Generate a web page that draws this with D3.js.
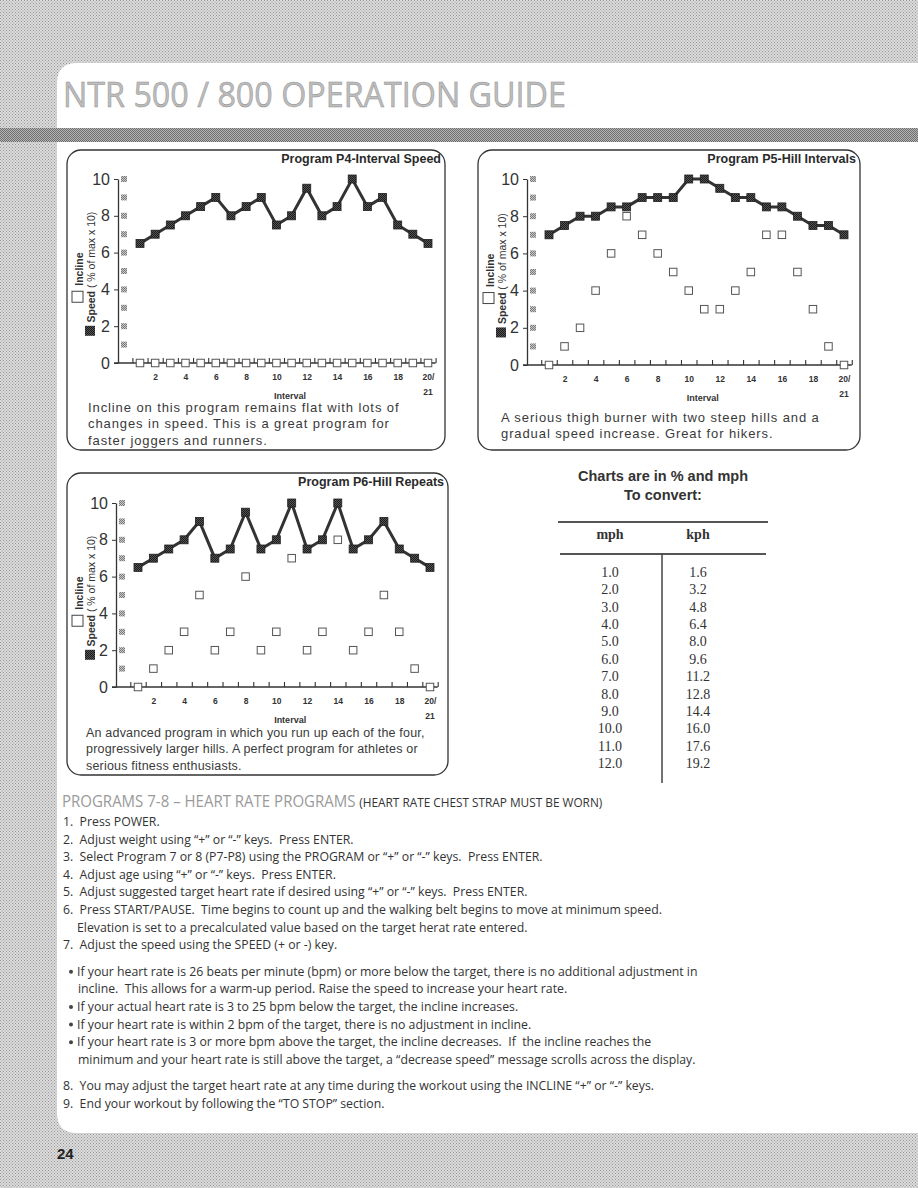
<!DOCTYPE html>
<html>
<head>
<meta charset="utf-8">
<script src="https://cdn.jsdelivr.net/npm/d3@7"></script>
<style>
body { margin: 0; background: #fff; }
svg { display: block; }
text { white-space: pre; }
</style>
</head>
<body>
<script>
// chart data
var intervals = [1,2,3,4,5,6,7,8,9,10,11,12,13,14,15,16,17,18,19,20];
var xTickValues = [2,4,6,8,10,12,14,16,18,20];
var xTickLabels = ['2','4','6','8','10','12','14','16','18','20/'];
var yTickValues = [0,2,4,6,8,10];
var yUnitMarks = [1,2,3,4,5,6,7,8,9,10];

var p4Speed   = [6.5,7,7.5,8,8.5,9,8,8.5,9,7.5,8,9.5,8,8.5,10,8.5,9,7.5,7,6.5];
var p4Incline = [0,0,0,0,0,0,0,0,0,0,0,0,0,0,0,0,0,0,0,0];
var p5Speed   = [7,7.5,8,8,8.5,8.5,9,9,9,10,10,9.5,9,9,8.5,8.5,8,7.5,7.5,7];
var p5Incline = [0,1,2,4,6,8,7,6,5,4,3,3,4,5,7,7,5,3,1,0];
var p6Speed   = [6.5,7,7.5,8,9,7,7.5,9.5,7.5,8,10,7.5,8,10,7.5,8,9,7.5,7,6.5];
var p6Incline = [0,1,2,3,5,2,3,6,2,3,7,2,3,8,2,3,5,3,1,0];

var mphValues = ['1.0','2.0','3.0','4.0','5.0','6.0','7.0','8.0','9.0','10.0','11.0','12.0'];
var kphValues = ['1.6','3.2','4.8','6.4','8.0','9.6','11.2','12.8','14.4','16.0','17.6','19.2'];

var guideRows = [
  ['item', '1.  Press POWER.'],
  ['item', '2.  Adjust weight using \u201c+\u201d or \u201c-\u201d keys.  Press ENTER.'],
  ['item', '3.  Select Program 7 or 8 (P7-P8) using the PROGRAM or \u201c+\u201d or \u201c-\u201d keys.  Press ENTER.'],
  ['item', '4.  Adjust age using \u201c+\u201d or \u201c-\u201d keys.  Press ENTER.'],
  ['item', '5.  Adjust suggested target heart rate if desired using \u201c+\u201d or \u201c-\u201d keys.  Press ENTER.'],
  ['item', '6.  Press START/PAUSE.  Time begins to count up and the walking belt begins to move at minimum speed.'],
  ['cont', 'Elevation is set to a precalculated value based on the target herat rate entered.'],
  ['item', '7.  Adjust the speed using the SPEED (+ or -) key.'],
  ['bullet', 'If your heart rate is 26 beats per minute (bpm) or more below the target, there is no additional adjustment in'],
  ['bcont', 'incline.  This allows for a warm-up period. Raise the speed to increase your heart rate.'],
  ['bullet', 'If your actual heart rate is 3 to 25 bpm below the target, the incline increases.'],
  ['bullet', 'If your heart rate is within 2 bpm of the target, there is no adjustment in incline.'],
  ['bullet', 'If your heart rate is 3 or more bpm above the target, the incline decreases.  If  the incline reaches the'],
  ['bcont', 'minimum and your heart rate is still above the target, a \u201cdecrease speed\u201d message scrolls across the display.'],
  ['item', '8.  You may adjust the target heart rate at any time during the workout using the INCLINE \u201c+\u201d or \u201c-\u201d keys.'],
  ['item', '9.  End your workout by following the \u201cTO STOP\u201d section.']
];

var W = 918, H = 1188;
var sans = 'Liberation Sans, Arial, Helvetica, sans-serif';

var svg = d3.select('body').append('svg')
    .attr('width', W)
    .attr('height', H);

// halftone patterns
var defs = svg.append('defs');
function halftone(id, base, dot, size){
    var p = defs.append('pattern')
        .attr('id', id)
        .attr('width', size).attr('height', size)
        .attr('patternUnits', 'userSpaceOnUse');
    p.append('rect').attr('width', size).attr('height', size).attr('fill', base);
    p.append('rect').attr('x', 0).attr('y', 0).attr('width', 1).attr('height', 1).attr('fill', dot);
    p.append('rect').attr('x', size/2).attr('y', size/2).attr('width', 1).attr('height', 1).attr('fill', dot);
}
halftone('bgLight', '#dcdcdc', '#959595', 3);
halftone('bgDark', '#b4b4b4', '#6e6e6e', 2);
halftone('axisSq', '#c8c8c8', '#7a7a7a', 2);
halftone('speedSq', '#555', '#1a1a1a', 2);

// page background
svg.append('rect').attr('width', W).attr('height', H).attr('fill', 'url(#bgLight)');
var cr = 20, pageX = 57, pageTop = 63, pageBot = 1133;
svg.append('path')
   .attr('d', 'M' + W + ',' + pageTop + 'H' + (pageX + cr) +
              'Q' + pageX + ',' + pageTop + ' ' + pageX + ',' + (pageTop + cr) +
              'V' + (pageBot - cr) +
              'Q' + pageX + ',' + pageBot + ' ' + (pageX + cr) + ',' + pageBot + 'H' + W + 'Z')
   .attr('fill', '#fff');
svg.append('rect').attr('x', 0).attr('y', 128).attr('width', W).attr('height', 14).attr('fill', 'url(#bgDark)');

svg.append('text')
   .attr('x', 63).attr('y', 107)
   .attr('textLength', 503).attr('lengthAdjust', 'spacingAndGlyphs')
   .style('font-family', 'Open Sans, sans-serif')
   .style('font-size', '35px')
   .style('fill', '#bdbdbd')
   .style('stroke', '#8f8f8f')
   .style('stroke-width', 0.5)
   .text('NTR 500 / 800 OPERATION GUIDE');

svg.append('text')
   .attr('x', 57).attr('y', 1159)
   .style('font-family', sans).style('font-weight', 'bold').style('font-size', '15px')
   .style('fill', '#222')
   .text('24');

function drawProgram(cfg){
    var b = cfg.box;
    var g = svg.append('g');

    g.append('rect')
     .attr('x', b.x).attr('y', b.y)
     .attr('width', b.w).attr('height', b.h)
     .attr('rx', 14)
     .attr('fill', '#fff')
     .attr('stroke', '#333')
     .attr('stroke-width', 1.3);

    var x = d3.scaleLinear().domain([1, 20]).range(cfg.xr);
    var y = d3.scaleLinear().domain([0, 10]).range(cfg.yr);
    var ax = x(1) - 22;
    var y0 = y(0);
    var xEnd = x(20.5);

    g.append('text')
     .attr('x', b.x + b.w - 4).attr('y', b.y + 13)
     .attr('text-anchor', 'end')
     .style('font-family', sans).style('font-weight', 'bold').style('font-size', '12.5px')
     .style('fill', '#2a2a2a')
     .text(cfg.title);

    // y axis
    var yAxis = d3.axisLeft(y)
        .tickValues(yTickValues)
        .tickSize(4)
        .tickSizeOuter(0)
        .tickPadding(4)
        .tickFormat(d3.format('d'));
    var ya = g.append('g').attr('transform', 'translate(' + ax + ',0)').call(yAxis);
    ya.select('.domain').attr('stroke', '#333').attr('stroke-width', 1.3);
    ya.selectAll('.tick line').attr('stroke', '#333');
    ya.selectAll('.tick text')
      .style('font-family', sans).style('font-size', '16px')
      .style('fill', '#333');

    g.selectAll('.unit')
     .data(yUnitMarks)
     .enter()
     .append('rect')
     .attr('x', ax + 3)
     .attr('y', function(d){ return y(d) - 3; })
     .attr('width', 6).attr('height', 6)
     .attr('fill', 'url(#axisSq)');

    // x axis line with half-interval ticks
    g.append('line')
     .attr('x1', ax - 4).attr('x2', xEnd)
     .attr('y1', y0).attr('y2', y0)
     .attr('stroke', '#333').attr('stroke-width', 1.3);
    var halfTicks = intervals.map(function(d){ return d - 0.5; }).concat([20.5]);
    var xt = g.append('g').attr('transform', 'translate(0,' + y0 + ')')
        .call(d3.axisTop(x).tickValues(halfTicks).tickSize(5).tickSizeOuter(0).tickFormat(''));
    xt.select('.domain').remove();
    xt.selectAll('.tick line').attr('stroke', '#333').attr('stroke-width', 1.1);

    var xl = g.append('g').attr('transform', 'translate(0,' + y0 + ')')
        .call(d3.axisBottom(x).tickValues(xTickValues).tickSize(0).tickPadding(11)
              .tickFormat(function(d, i){ return xTickLabels[i]; }));
    xl.select('.domain').remove();
    xl.selectAll('.tick text')
      .style('font-family', sans).style('font-weight', 'bold').style('font-size', '8.5px')
      .style('fill', '#333');

    g.append('text')
     .attr('x', x(20)).attr('y', y0 + 32)
     .attr('text-anchor', 'middle')
     .style('font-family', sans).style('font-weight', 'bold').style('font-size', '8.5px')
     .style('fill', '#333')
     .text('21');
    g.append('text')
     .attr('x', x(10.9)).attr('y', y0 + 36)
     .attr('text-anchor', 'middle')
     .style('font-family', sans).style('font-weight', 'bold').style('font-size', '9px')
     .style('fill', '#333')
     .text('Interval');

    // legend along the y axis
    g.append('rect')
     .attr('x', b.x + 5).attr('y', y(3.6) - 5.5)
     .attr('width', 11).attr('height', 11)
     .attr('fill', '#fff').attr('stroke', '#444').attr('stroke-width', 1);
    g.append('text')
     .attr('transform', 'translate(' + (b.x + 15.5) + ',' + y(4.2) + ') rotate(-90)')
     .style('font-family', sans).style('font-weight', 'bold').style('font-size', '10.5px')
     .style('fill', '#333')
     .text('Incline');
    g.append('rect')
     .attr('x', b.x + 18).attr('y', y(1.75) - 5)
     .attr('width', 10).attr('height', 10)
     .attr('fill', 'url(#speedSq)');
    var sp = g.append('text')
     .attr('transform', 'translate(' + (b.x + 28) + ',' + y(2.2) + ') rotate(-90)')
     .style('font-family', sans).style('font-size', '10.5px')
     .style('fill', '#333');
    sp.append('tspan').style('font-weight', 'bold').text('Speed');
    sp.append('tspan').text(' ( % of max x 10)');

    // speed line
    var line = d3.line()
        .x(function(d, i){ return x(intervals[i]); })
        .y(function(d){ return y(d); });
    g.append('path')
     .datum(cfg.speed)
     .attr('d', line)
     .attr('fill', 'none')
     .attr('stroke', '#333')
     .attr('stroke-width', 3);

    g.selectAll('.incl')
     .data(cfg.incline)
     .enter()
     .append('rect')
     .attr('x', function(d, i){ return x(intervals[i]) - 3.75; })
     .attr('y', function(d){ return y(d) - 3.75; })
     .attr('width', 7.5).attr('height', 7.5)
     .attr('fill', '#fff')
     .attr('stroke', '#555')
     .attr('stroke-width', 1);

    g.selectAll('.spd')
     .data(cfg.speed)
     .enter()
     .append('rect')
     .attr('x', function(d, i){ return x(intervals[i]) - 4; })
     .attr('y', function(d){ return y(d) - 4; })
     .attr('width', 8).attr('height', 8)
     .attr('fill', 'url(#speedSq)')
     .attr('stroke', '#222')
     .attr('stroke-width', 0.8);

    // description
    g.selectAll('.desc')
     .data(cfg.desc)
     .enter()
     .append('text')
     .attr('x', cfg.descX)
     .attr('y', function(d, i){ return cfg.descY + i * 16.3; })
     .style('font-family', sans)
     .style('font-size', cfg.descSize)
     .style('letter-spacing', cfg.descSpacing)
     .style('fill', '#3a3a3a')
     .text(function(d){ return d; });
}

drawProgram({
    title: 'Program P4-Interval Speed',
    box: {x: 67, y: 150, w: 378, h: 300},
    xr: [140, 428], yr: [363, 179],
    speed: p4Speed, incline: p4Incline,
    desc: ['Incline on this program remains flat with lots of',
           'changes in speed. This is a great program for',
           'faster joggers and runners.'],
    descX: 88, descY: 412, descSize: '13px', descSpacing: '0.9px'
});
drawProgram({
    title: 'Program P5-Hill Intervals',
    box: {x: 478, y: 150, w: 382, h: 300},
    xr: [549, 844], yr: [365, 179],
    speed: p5Speed, incline: p5Incline,
    desc: ['A serious thigh burner with two steep hills and a',
           'gradual speed increase. Great for hikers.'],
    descX: 501, descY: 422, descSize: '13px', descSpacing: '0.9px'
});
drawProgram({
    title: 'Program P6-Hill Repeats',
    box: {x: 67, y: 473, w: 381, h: 302},
    xr: [138, 430], yr: [687, 503],
    speed: p6Speed, incline: p6Incline,
    desc: ['An advanced program in which you run up each of the four,',
           'progressively larger hills. A perfect program for athletes or',
           'serious fitness enthusiasts.'],
    descX: 86, descY: 737, descSize: '12.5px', descSpacing: '0.2px'
});

// conversion table
var tb = svg.append('g');
tb.append('text')
  .attr('x', 663).attr('y', 481)
  .attr('text-anchor', 'middle')
  .style('font-family', sans).style('font-weight', 'bold').style('font-size', '14.5px')
  .style('fill', '#333')
  .text('Charts are in % and mph');
tb.append('text')
  .attr('x', 663).attr('y', 500)
  .attr('text-anchor', 'middle')
  .style('font-family', sans).style('font-weight', 'bold').style('font-size', '14.5px')
  .style('fill', '#333')
  .text('To convert:');
tb.append('line').attr('x1', 558).attr('x2', 768).attr('y1', 522).attr('y2', 522)
  .attr('stroke', '#555').attr('stroke-width', 2);
tb.append('line').attr('x1', 560).attr('x2', 766).attr('y1', 554).attr('y2', 554)
  .attr('stroke', '#555').attr('stroke-width', 2);
tb.append('line').attr('x1', 662).attr('x2', 662).attr('y1', 554).attr('y2', 783)
  .attr('stroke', '#444').attr('stroke-width', 1.5);

var serif = 'Liberation Serif, DejaVu Serif, serif';
[['mph', 610], ['kph', 698]].forEach(function(h){
    tb.append('text')
      .attr('x', h[1]).attr('y', 539)
      .attr('text-anchor', 'middle')
      .style('font-family', serif).style('font-weight', 'bold').style('font-size', '14px')
      .style('fill', '#333')
      .text(h[0]);
});
var rowY = d3.scalePoint().domain(mphValues).range([577, 768]);
tb.selectAll('.mph')
  .data(mphValues)
  .enter()
  .append('text')
  .attr('x', 610)
  .attr('y', function(d){ return rowY(d); })
  .attr('text-anchor', 'middle')
  .style('font-family', serif).style('font-size', '14px').style('fill', '#333')
  .text(function(d){ return d; });
tb.selectAll('.kph')
  .data(kphValues)
  .enter()
  .append('text')
  .attr('x', 698)
  .attr('y', function(d, i){ return rowY(mphValues[i]); })
  .attr('text-anchor', 'middle')
  .style('font-family', serif).style('font-size', '14px').style('fill', '#333')
  .text(function(d){ return d; });

// heart rate section
var cond = 'Open Sans, Noto Sans, sans-serif';
var sx = 0.91;
var head = svg.append('text')
    .attr('transform', 'translate(62,807) scale(' + sx + ',1)')
    .style('font-family', cond);
head.append('tspan').style('font-size', '16.5px').style('fill', '#9a9a9a')
    .text('PROGRAMS 7-8 \u2013 HEART RATE PROGRAMS ');
head.append('tspan').style('font-size', '13px').style('fill', '#333')
    .text('(HEART RATE CHEST STRAP MUST BE WORN)');

var indent = {item: 63, cont: 77, bullet: 77, bcont: 78};
var cy = 826;
guideRows.forEach(function(row, i){
    if (i > 0) {
        cy += 17.6;
        if (row[0] === 'bullet' && guideRows[i-1][0] === 'item') cy += 9;
        if (row[0] === 'item' && guideRows[i-1][0] === 'bcont') cy += 9;
    }
    if (row[0] === 'bullet') {
        svg.append('circle').attr('cx', 71).attr('cy', cy - 4).attr('r', 2).attr('fill', '#444');
    }
    svg.append('text')
       .attr('transform', 'translate(' + indent[row[0]] + ',' + cy + ') scale(' + sx + ',1)')
       .style('font-family', cond).style('font-size', '13.5px')
       .style('fill', '#333')
       .text(row[1]);
});
</script>
</body>
</html>
